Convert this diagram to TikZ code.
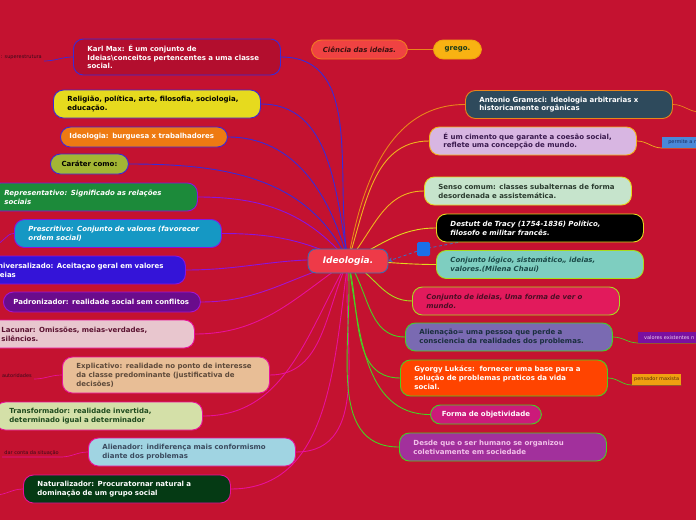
\documentclass[tikz,border=0pt]{standalone}
\usepackage{fontspec}
\setmainfont{DejaVu Sans}
\usetikzlibrary{arrows.meta}
\pgfdeclarelayer{links}
\pgfsetlayers{links,main}

\definecolor{bgred}{HTML}{C41230}
\definecolor{hubred}{HTML}{EE3A48}
\definecolor{hubblue}{HTML}{3A6CB0}
\definecolor{karlfill}{HTML}{B30E2E}
\definecolor{leftblue}{HTML}{3A2AD8}
\definecolor{leftviolet}{HTML}{8A14E0}
\definecolor{padronline}{HTML}{A414D0}
\definecolor{leftpink}{HTML}{E8109A}
\definecolor{rightorange}{HTML}{E8861A}
\definecolor{rightamber}{HTML}{F0B41E}
\definecolor{rightyellow}{HTML}{E4D81E}
\definecolor{rightlime}{HTML}{A8DC1E}
\definecolor{rightgreen}{HTML}{48D024}
\definecolor{tagdark}{HTML}{3A0A1A}
\definecolor{relblue}{HTML}{3A70C8}
\definecolor{sqblue}{HTML}{1A6FE8}

\tikzset{
topic/.style={draw,line width=0.9pt,rounded corners=10pt,anchor=west,align=left,text width=179pt,inner xsep=14pt,inner ysep=1pt,minimum height=28pt,font=\bfseries\fontsize{7}{8.8}\selectfont},
oblique/.style={font=\bfseries\itshape\fontsize{7}{8.8}\selectfont},
tag/.style={inner xsep=2pt,inner ysep=1.5pt,font=\fontsize{5}{6}\selectfont},
branch/.style={line width=0.9pt},
twig/.style={line width=0.7pt},
rel/.style={dash pattern=on 3pt off 2.5pt,line width=0.8pt,draw=relblue}
}

\begin{document}
\begin{tikzpicture}[x=1pt,y=1pt]
\useasboundingbox (0,0) rectangle (696,-520);
\node[draw=hubblue,fill=hubred,line width=0.9pt,rounded corners=8pt,minimum width=80pt,minimum height=24pt,text=white,font=\bfseries\itshape\fontsize{9}{10}\selectfont] (ideologia) at (348,-261) {Ideologia.};

\node[topic,fill=karlfill,draw=leftblue,text=white,minimum height=36pt] (karl) at (73,-57) {Karl Max: É um conjunto de\\Ideias\textbackslash conceitos pertencentes a uma classe\\social.};
\node[topic,fill={rgb,255:red,230;green,218;blue,30},draw=leftblue,text=black] (relig) at (53,-104) {Religião, política, arte, filosofia, sociologia,\\educação.};
\node[topic,fill={rgb,255:red,238;green,122;blue,18},draw=leftblue,text=white,minimum height=20pt,text width=149pt,inner xsep=9pt] (burguesa) at (60,-137) {Ideologia: burguesa x trabalhadores};
\node[topic,fill={rgb,255:red,163;green,182;blue,52},draw=leftblue,text=black,minimum height=20pt,text width=60pt,inner xsep=9pt,align=center] (carater) at (50,-164) {Caráter como:};
\node[topic,oblique,fill={rgb,255:red,28;green,138;blue,58},draw=leftviolet,text=white] (repres) at (-10,-197) {Representativo: Significado as relações\\sociais};
\node[topic,oblique,fill={rgb,255:red,21;green,152;blue,196},draw=leftviolet,text=white] (prescr) at (14,-233.5) {Prescritivo: Conjunto de valores (favorecer\\ordem social)};
\node[topic,fill={rgb,255:red,52;green,20;blue,216},draw=leftviolet,text=white] (univ) at (-22,-270) {Universalizado: Aceitaçao geral em valores\\ideias};
\node[topic,fill={rgb,255:red,106;green,12;blue,140},draw=padronline,text=white,minimum height=20pt,text width=177pt,inner xsep=10pt] (padron) at (3,-302) {Padronizador: realidade social sem conflitos};
\node[topic,fill={rgb,255:red,232;green,198;blue,206},draw=leftpink,text={rgb,255:red,90;green,18;blue,48}] (lacunar) at (-13,-334) {Lacunar: Omissões, meias-verdades,\\silêncios.};
\node[topic,fill={rgb,255:red,232;green,190;blue,150},draw=leftpink,text={rgb,255:red,94;green,74;blue,58},minimum height=36pt] (explic) at (62,-375) {Explicativo: realidade no ponto de interesse\\da classe predominante (justificativa de\\decisões)};
\node[topic,fill={rgb,255:red,212;green,224;blue,168},draw=leftpink,text={rgb,255:red,30;green,74;blue,30}] (transf) at (-5,-416) {Transformador: realidade invertida,\\determinado igual a determinador};
\node[topic,fill={rgb,255:red,160;green,212;blue,226},draw=leftpink,text={rgb,255:red,58;green,74;blue,94}] (alien) at (88,-452) {Alienador: indiferença mais conformismo\\diante dos problemas};
\node[topic,fill={rgb,255:red,5;green,58;blue,20},draw=leftpink,text=white] (natur) at (23,-489) {Naturalizador: Procuratornar natural a\\dominação de um grupo social};

\node[topic,oblique,fill={rgb,255:red,240;green,66;blue,66},draw={rgb,255:red,240;green,122;blue,32},text={rgb,255:red,58;green,16;blue,16},minimum height=19pt,text width=80pt,inner xsep=8pt,align=center] (ciencia) at (311,-49.5) {Ciência das ideias.};
\node[topic,fill={rgb,255:red,248;green,178;blue,18},draw={rgb,255:red,240;green,160;blue,16},text={rgb,255:red,26;green,58;blue,26},minimum height=19pt,text width=36pt,inner xsep=6pt,align=center] (grego) at (433,-49.5) {grego.};

\node[topic,fill={rgb,255:red,46;green,74;blue,92},draw=rightorange,text=white] (gramsci) at (465,-104.5) {Antonio Gramsci: Ideologia arbitrarias x\\historicamente orgânicas};
\node[topic,fill={rgb,255:red,216;green,182;blue,226},draw=rightamber,text={rgb,255:red,58;green,26;blue,78}] (cimento) at (429,-141) {É um cimento que garante a coesão social,\\reflete uma concepção de mundo.};
\node[topic,fill={rgb,255:red,198;green,228;blue,204},draw=rightyellow,text={rgb,255:red,42;green,58;blue,46}] (senso) at (424,-191) {Senso comum: classes subalternas de forma\\desordenada e assistemática.};
\node[topic,oblique,fill=black,draw=rightyellow,text=white] (destutt) at (436,-228) {Destutt de Tracy (1754-1836) Político,\\filosofo e militar francês.};
\node[topic,oblique,fill={rgb,255:red,126;green,206;blue,192},draw=rightlime,text={rgb,255:red,26;green,74;blue,72}] (clogico) at (436,-264.5) {Conjunto lógico, sistemático,, ideias,\\valores.(Milena Chauí)};
\node[topic,oblique,fill={rgb,255:red,226;green,26;blue,92},draw=rightlime,text={rgb,255:red,74;green,14;blue,36}] (cideias) at (412,-301) {Conjunto de ideias, Uma forma de ver o\\mundo.};
\node[topic,fill={rgb,255:red,122;green,106;blue,178},draw=rightgreen,text={rgb,255:red,26;green,46;blue,62}] (alienac) at (405,-337) {Alienação= uma pessoa que perde a\\consciencia da realidades dos problemas.};
\node[topic,fill={rgb,255:red,255;green,68;blue,0},draw=rightgreen,text=white,minimum height=36pt] (lukacs) at (400,-378) {Gyorgy Lukács:\ \ fornecer uma base para a\\solução de problemas praticos da vida\\social.};
\node[topic,fill={rgb,255:red,204;green,26;blue,122},draw=rightgreen,text=white,minimum height=19pt,text width=95pt,inner xsep=8pt,align=center] (forma) at (430,-414.5) {Forma de objetividade};
\node[topic,fill={rgb,255:red,162;green,48;blue,156},draw=rightgreen,text={rgb,255:red,242;green,194;blue,234}] (desde) at (399,-447) {Desde que o ser humano se organizou\\coletivamente em sociedade};

\node[fill=sqblue,rounded corners=1.5pt,minimum width=13pt,minimum height=14pt,inner sep=0pt] (relsq) at (423.5,-249) {};

\node[tag,text=tagdark,anchor=south east] (superestr) at (44,-61) {: superestrutura};
\node[tag,text=tagdark,anchor=south east] (autorid) at (34,-379) {autoridades};
\node[tag,text=tagdark,anchor=south east] (darconta) at (61,-457) {dar conta da situação};
\node[tag,fill={rgb,255:red,74;green,136;blue,216},text={rgb,255:red,26;green,42;blue,90},anchor=south west,minimum width=40pt,minimum height=11pt,align=left] (permite) at (662,-148) {permite a r};
\node[tag,fill={rgb,255:red,122;green,16;blue,160},text={rgb,255:red,235;green,208;blue,240},anchor=south west,minimum width=62pt,minimum height=11pt] (valores) at (638,-343) {valores existentes n};
\node[tag,fill={rgb,255:red,240;green,160;blue,16},text={rgb,255:red,90;green,42;blue,10},anchor=south west,minimum height=11pt] (pensador) at (632,-385) {pensador maxista};

\coordinate (prescrtip) at (-5,-244);
\coordinate (naturtip) at (-5,-495);
\coordinate (gramtip) at (700,-112);

\begin{pgfonlayer}{links}
\fill[bgred] (0,0) rectangle (696,-520);
\foreach \n/\c/\o in {karl/leftblue/100,relig/leftblue/100,burguesa/leftblue/105,carater/leftblue/115,repres/leftviolet/130,prescr/leftviolet/155,univ/leftviolet/175,padron/padronline/195,lacunar/leftpink/215,explic/leftpink/245,transf/leftpink/240,alien/leftpink/265,natur/leftpink/262}
  \draw[branch,\c] (ideologia.center) to[out=\o,in=0] (\n.east);
\foreach \n/\c/\o in {gramsci/rightorange/80,cimento/rightamber/72,senso/rightamber/50,destutt/rightyellow/25,clogico/rightyellow/0,cideias/rightlime/-25,alienac/rightgreen/-55,lukacs/rightgreen/-75,forma/rightgreen/-80,desde/rightgreen/-85}
  \draw[branch,\c] (ideologia.center) to[out=\o,in=180] (\n.west);
\draw[twig,leftblue] (karl.west) to[out=180,in=0] (superestr.south east);
\draw[twig,leftviolet] (prescr.west) to[out=180,in=0] (prescrtip);
\draw[twig,leftpink] (explic.west) to[out=180,in=0] (autorid.south east);
\draw[twig,leftpink] (alien.west) to[out=180,in=0] (darconta.south east) -- (darconta.south west);
\draw[twig,leftpink] (natur.west) to[out=180,in=0] (naturtip);
\draw[twig,rightorange] (gramsci.east) to[out=0,in=180] (gramtip);
\draw[twig,rightamber] (cimento.east) to[out=0,in=180] (permite.south west) -- (permite.south east);
\draw[twig,rightgreen] (alienac.east) to[out=0,in=180] (valores.south west) -- (valores.south east);
\draw[twig,rightgreen] (lukacs.east) to[out=0,in=180] (pensador.south west) -- (pensador.south east);
\draw[twig,rightorange] (ciencia) -- (grego);
\draw[rel,-{Stealth[length=4pt,width=5pt]}] ([xshift=22pt]destutt.south west) -- (relsq) -- (ideologia.east);
\end{pgfonlayer}
\end{tikzpicture}
\end{document}
